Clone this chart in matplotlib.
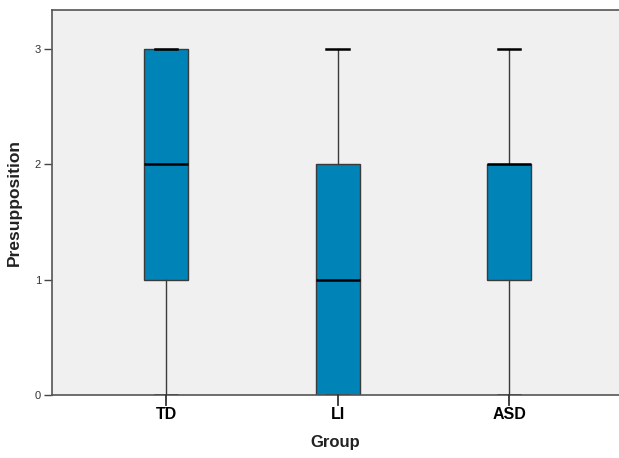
import matplotlib
matplotlib.use('Agg')
import matplotlib.pyplot as plt

# box summary per group
groups = ['TD', 'LI', 'ASD']
whisker_low = [0, 0, 0]
q1 = [1, 0, 1]
median = [2, 1, 2]
q3 = [3, 2, 2]
whisker_high = [3, 3, 3]
y_ticks = [0, 1, 2, 3]

plt.rcParams['font.family'] = ['Liberation Sans', 'DejaVu Sans']

fig = plt.figure(figsize=(6.19, 4.58), dpi=100)
ax = fig.add_axes([0.084, 0.1376, 0.916, 0.8395])
ax.set_facecolor('#f0f0f0')

stats = []
for i, name in enumerate(groups):
    stats.append({'label': name, 'whislo': whisker_low[i], 'q1': q1[i], 'med': median[i],
                  'q3': q3[i], 'whishi': whisker_high[i], 'fliers': []})

ax.bxp(stats, positions=range(len(groups)), widths=0.255, capwidths=0.13,
       patch_artist=True, showfliers=False, manage_ticks=False,
       boxprops=dict(facecolor='#0083b7', edgecolor='#3a3a3a', linewidth=1.0),
       medianprops=dict(color='black', linewidth=1.8),
       whiskerprops=dict(color='#3a3a3a', linewidth=1.0),
       capprops=dict(color='black', linewidth=1.8))

ax.set_xlim(-0.665, 2.64)
ax.set_ylim(0, 3.334)
ax.set_yticks(y_ticks)
ax.set_yticklabels([str(v) for v in y_ticks], fontsize=8, color='#333333')
ax.set_xticks(range(len(groups)))
ax.set_xticklabels(groups, fontsize=11.5, fontweight='bold')
ax.tick_params(axis='y', direction='out', length=6, width=1, color='#444444', pad=2)
ax.tick_params(axis='x', length=0, pad=9)

# x tick marks drawn by hand below the axis (axes-fraction in y)
trans = ax.get_xaxis_transform()
for i in range(len(groups)):
    ax.plot([i, i], [0, -0.026], transform=trans, color='#333333', lw=1.3,
            clip_on=False, zorder=5)

for side in ['left', 'bottom', 'top']:
    ax.spines[side].set_color('#555555')
    ax.spines[side].set_linewidth(1.2)
ax.spines['right'].set_visible(False)

ax.set_xlabel('Group', fontsize=12, fontweight='bold', labelpad=9, color='#222222')
ax.set_ylabel('Presupposition', fontsize=12.5, fontweight='bold', labelpad=9, color='#222222')

fig.savefig('out.png', dpi=100)
